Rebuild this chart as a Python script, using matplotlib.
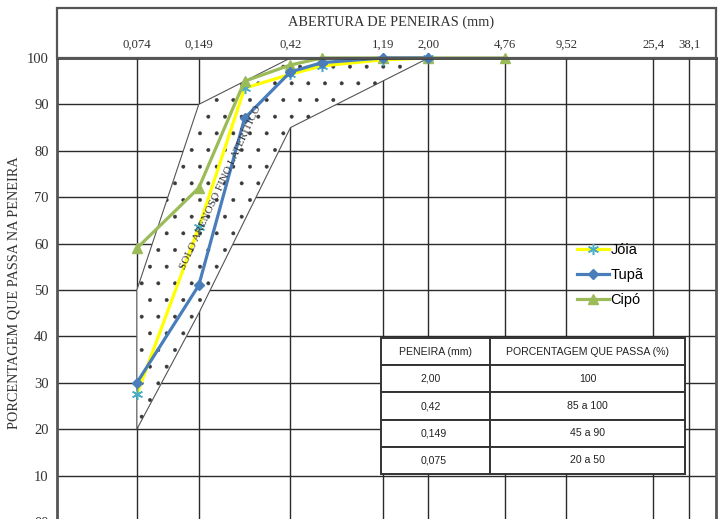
import matplotlib
matplotlib.use('Agg')
import matplotlib.pyplot as plt
from matplotlib.patches import Rectangle

# aberturas marcadas no eixo superior
peneiras_eixo = [0.074, 0.149, 0.42, 1.19, 2.00, 4.76, 9.52, 25.4, 38.1]
rotulos_eixo = ['0,074', '0,149', '0,42', '1,19', '2,00', '4,76', '9,52', '25,4', '38,1']

# curvas granulometricas
peneiras = [0.074, 0.149, 0.25, 0.42, 0.6, 1.19, 2.00, 4.76]
joia = [27.5, 63.5, 93.5, 96.5, 98.3, 99.6, 100]
tupa = [30, 51, 87, 97, 99, 100, 100]
cipo = [59, 72, 95, 98.5, 100, 100, 100, 100]

# faixa do solo arenoso fino lateritico
faixa_x = [0.074, 0.074, 0.149, 0.42, 2.00, 0.42, 0.149]
faixa_y = [20, 50, 90, 100, 100, 85, 45]

# tabela
tab_peneira = ['2,00', '0,42', '0,149', '0,075']
tab_passa = ['100', '85 a 100', '45 a 90', '20 a 50']

serif = 'Liberation Serif'
sans = ['Liberation Sans', 'DejaVu Sans']

plt.rcParams['hatch.linewidth'] = 0.35

fig = plt.figure(figsize=(7.2, 5.19), dpi=100)
ax = fig.add_axes([57 / 720, -3 / 519, 659 / 720, 464 / 519])

ax.set_xscale('log')
ax.set_xlim(0.0300, 51.6)
ax.set_ylim(0, 100)

# grade
ax.set_xticks(peneiras_eixo)
ax.set_xticklabels(rotulos_eixo)
ax.minorticks_off()
ax.set_yticks(range(0, 101, 10))
ax.set_yticklabels(['00'] + [str(v) for v in range(10, 101, 10)])
ax.grid(True, color='#2b2b2b', linewidth=1.0, zorder=0)
ax.set_axisbelow(True)

ax.xaxis.tick_top()
ax.tick_params(axis='x', length=0, pad=5, labelsize=9.2, labelcolor='#333333')
ax.tick_params(axis='y', length=0, pad=6, labelsize=10.5, labelcolor='#333333')
for lab in ax.get_xticklabels() + ax.get_yticklabels():
    lab.set_fontfamily(serif)

for s in ['left', 'right']:
    ax.spines[s].set_color('#555555')
    ax.spines[s].set_linewidth(2.0)
ax.spines['top'].set_color('#333333')
ax.spines['top'].set_linewidth(1.8)
ax.spines['bottom'].set_visible(False)

# faixa pontilhada
ax.fill(faixa_x, faixa_y, facecolor='white', edgecolor='#555555', linewidth=0.8, zorder=1)
ax.fill(faixa_x, faixa_y, facecolor='none', edgecolor='#3a3a3a', linewidth=0,
        hatch='.', zorder=1.1)

ax.text(0.19, 72, 'SOLO ARENOSO FINO LATERÍTICO', rotation=65, ha='center', va='center',
        rotation_mode='anchor', fontsize=8, fontfamily=serif, color='#333333', zorder=4)

# curvas
ax.plot(peneiras[:len(joia)], joia, color='#FFFF00', linewidth=2.3, marker=(6, 2, 0),
        markersize=8, markeredgecolor='#4BACC6', markeredgewidth=1.1, label='Jóia', zorder=3)
ax.plot(peneiras[:len(tupa)], tupa, color='#4A7EBB', linewidth=2.3, marker='D',
        markersize=5, label='Tupã', zorder=3.2)
ax.plot(peneiras[:len(cipo)], cipo, color='#9BBB59', linewidth=2.3, marker='^',
        markersize=7, label='Cipó', zorder=3.1)

for sp in ax.spines.values():
    sp.set_zorder(6)
for line in ax.lines:
    line.set_clip_on(False)

leg = ax.legend(loc='upper left', bbox_to_anchor=(577 / 720, 1 - 243 / 519),
                bbox_transform=fig.transFigure, frameon=False, borderpad=0,
                borderaxespad=0, handlelength=2.2, handletextpad=0.1,
                labelspacing=0.75, prop={'family': sans, 'size': 10.5})
leg.set_zorder(7)

# tabela
linhas = [[a, b] for a, b in zip(tab_peneira, tab_passa)]
tab = ax.table(cellText=linhas, colLabels=['PENEIRA (mm)', 'PORCENTAGEM QUE PASSA (%)'],
               cellLoc='center', colWidths=[0.359, 0.641],
               bbox=[0.4917, 0.1034, 0.4613, 0.2931])
tab.auto_set_font_size(False)
tab.set_zorder(5)
for (r, c), cell in tab.get_celld().items():
    cell.set_edgecolor('#333333')
    cell.set_linewidth(1.4)
    cell.set_facecolor('white')
    txt = cell.get_text()
    txt.set_fontsize(7.6)
    txt.set_fontfamily(sans)
    txt.set_color('#222222')
    if r > 0 and c == 0:
        cell._loc = 'left'
        cell.PAD = 0.36
        txt.set_horizontalalignment('left')

# cabecalho
fig.patches.append(Rectangle((57 / 720, 1 - 58 / 519), 659 / 720, 50 / 519,
                             transform=fig.transFigure, fill=False,
                             edgecolor='#555555', linewidth=1.6))
fig.text(391 / 720, 1 - 22 / 519, 'ABERTURA DE PENEIRAS (mm)', ha='center', va='center',
         fontsize=10.4, fontfamily=serif, color='#333333')

ax.set_ylabel('PORCENTAGEM QUE PASSA NA PENEIRA', fontsize=10.3, fontfamily=serif,
              color='#333333')
ax.yaxis.set_label_coords(-0.056, 0.4935)

fig.savefig('out.png', dpi=100)
